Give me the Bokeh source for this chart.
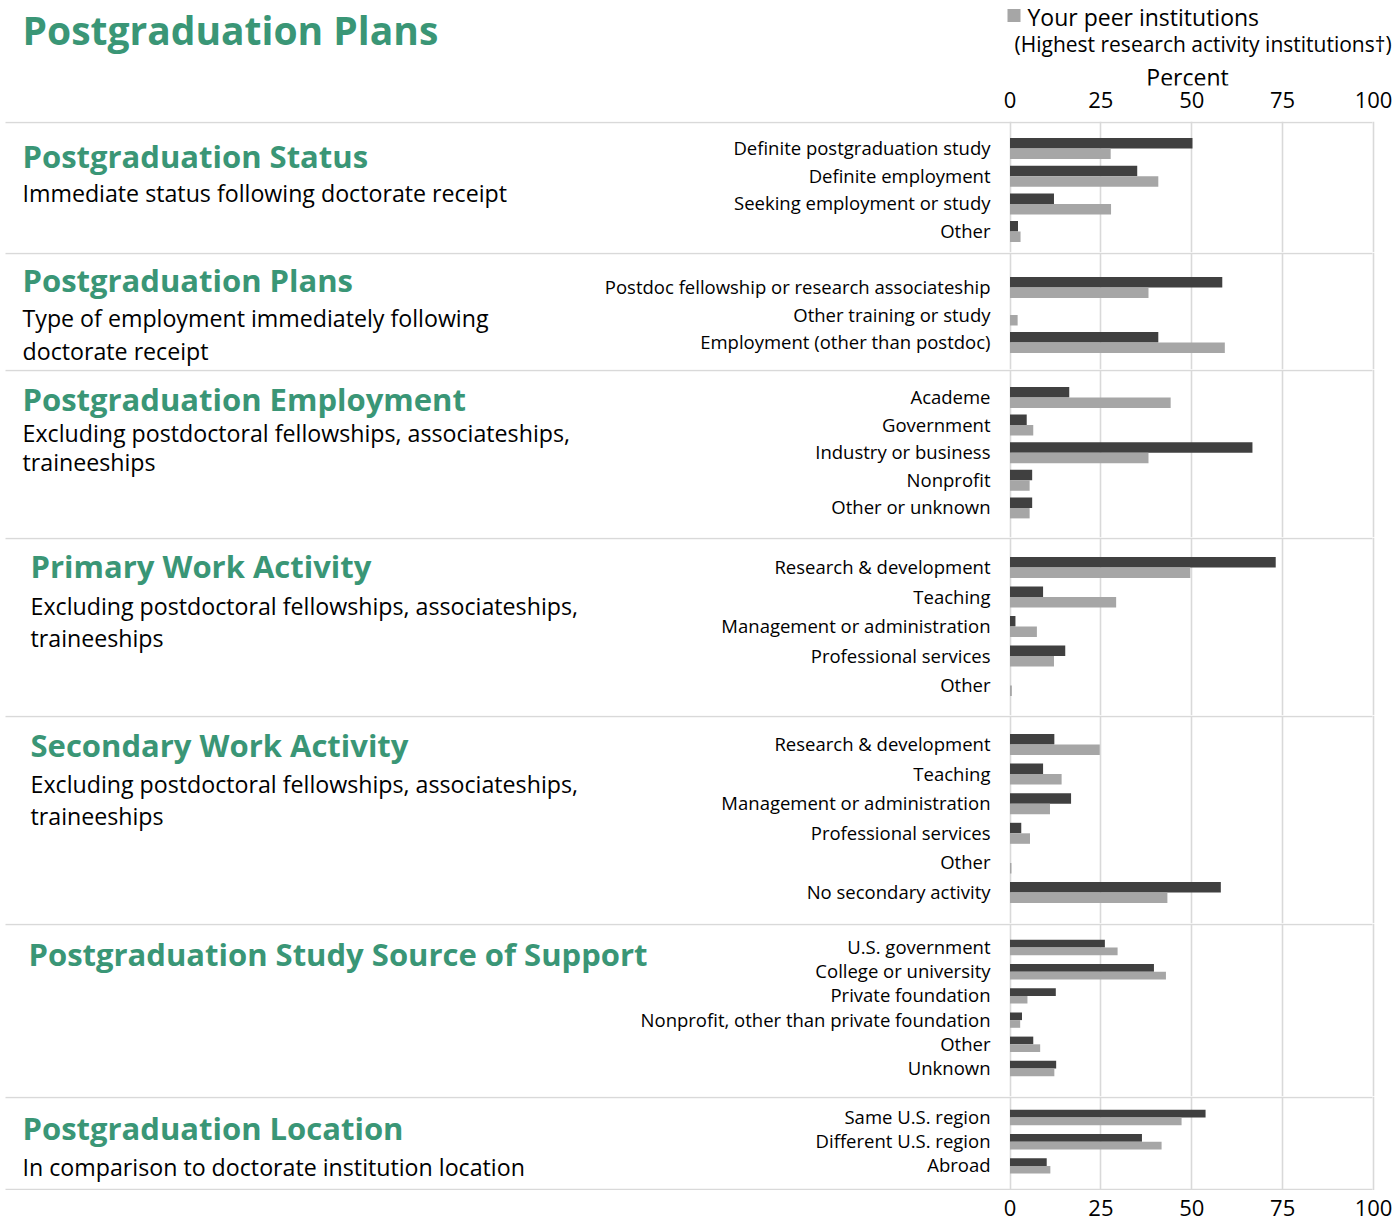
from bokeh.plotting import figure
from bokeh.models import Range1d, ColumnDataSource, LinearAxis, FixedTicker, Grid
from bokeh.layouts import column
from bokeh.embed import file_html
from bokeh.resources import INLINE
from bokeh.core.properties import value

# ---------------- data ----------------
TICKS = [0, 25, 50, 75, 100]
TICK_LABELS = [str(t) for t in TICKS]
MAIN_TITLE = "Postgraduation Plans"
PEER_LABEL = "Your peer institutions"
PEER_NOTE = "(Highest research activity institutions\u2020)"
X_LABEL = "Percent"

STATUS_CATS = ["Definite postgraduation study", "Definite employment",
               "Seeking employment or study", "Other"]
STATUS_YOU = [50.2, 35.0, 12.1, 2.2]
STATUS_PEER = [27.7, 40.8, 27.8, 2.9]

PLANS_CATS = ["Postdoc fellowship or research associateship", "Other training or study",
              "Employment (other than postdoc)"]
PLANS_YOU = [58.4, 0.0, 40.8]
PLANS_PEER = [38.1, 2.1, 59.1]

EMPLOY_CATS = ["Academe", "Government", "Industry or business", "Nonprofit", "Other or unknown"]
EMPLOY_YOU = [16.3, 4.6, 66.7, 6.1, 6.1]
EMPLOY_PEER = [44.2, 6.4, 38.1, 5.4, 5.4]

PRIMARY_CATS = ["Research & development", "Teaching", "Management or administration",
                "Professional services", "Other"]
PRIMARY_YOU = [73.1, 9.1, 1.5, 15.2, 0.0]
PRIMARY_PEER = [49.6, 29.2, 7.4, 12.1, 0.5]

SECONDARY_CATS = ["Research & development", "Teaching", "Management or administration",
                  "Professional services", "Other", "No secondary activity"]
SECONDARY_YOU = [12.2, 9.1, 16.8, 3.1, 0.0, 58.0]
SECONDARY_PEER = [24.7, 14.2, 11.0, 5.5, 0.4, 43.3]

SUPPORT_CATS = ["U.S. government", "College or university", "Private foundation",
                "Nonprofit, other than private foundation", "Other", "Unknown"]
SUPPORT_YOU = [26.1, 39.6, 12.6, 3.3, 6.4, 12.7]
SUPPORT_PEER = [29.6, 42.9, 4.8, 2.8, 8.3, 12.2]

LOCATION_CATS = ["Same U.S. region", "Different U.S. region", "Abroad"]
LOCATION_YOU = [53.8, 36.3, 10.1]
LOCATION_PEER = [47.2, 41.7, 11.1]

SECTION_TITLES = ["Postgraduation Status", "Postgraduation Plans", "Postgraduation Employment",
                  "Primary Work Activity", "Secondary Work Activity",
                  "Postgraduation Study Source of Support", "Postgraduation Location"]
SECTION_SUBTITLES = [
    ["Immediate status following doctorate receipt"],
    ["Type of employment immediately following", "doctorate receipt"],
    ["Excluding postdoctoral fellowships, associateships,", "traineeships"],
    ["Excluding postdoctoral fellowships, associateships,", "traineeships"],
    ["Excluding postdoctoral fellowships, associateships,", "traineeships"],
    [],
    ["In comparison to doctorate institution location"],
]
SECTION_DATA = [
    (STATUS_CATS, STATUS_YOU, STATUS_PEER),
    (PLANS_CATS, PLANS_YOU, PLANS_PEER),
    (EMPLOY_CATS, EMPLOY_YOU, EMPLOY_PEER),
    (PRIMARY_CATS, PRIMARY_YOU, PRIMARY_PEER),
    (SECONDARY_CATS, SECONDARY_YOU, SECONDARY_PEER),
    (SUPPORT_CATS, SUPPORT_YOU, SUPPORT_PEER),
    (LOCATION_CATS, LOCATION_YOU, LOCATION_PEER),
]

# ---------------- layout / style ----------------
W = 1393
PX0, PX100 = 1009.5, 1373.0


def px2x(px):
    return (px - PX0) / (PX100 - PX0) * 100.0


XR = Range1d(px2x(0), px2x(W))

FONT = "Open Sans"
GREEN = "#3a9676"
DARK = "#404040"
PEER = "#a6a6a6"
LINE = "#d9d9d9"
CAT_FS = "18.5px"
SUB_FS = "23.2px"
TITLE_FS = "31px"
MAIN_FS = "39px"
TICK_FS = "22px"

# (frame height, first row offset, row pitch, bar height, title x px, title y, subtitle ys)
LAYOUT = [
    (131, 27.0, 27.7, 10.5, 22, 34, [71]),
    (117, 35.0, 27.5, 10.5, 22, 27, [65, 98]),
    (168, 28.0, 27.6, 10.5, 22, 29, [63, 92]),
    (178, 30.0, 29.5, 10.5, 30, 28, [68, 100]),
    (208, 29.0, 29.6, 10.5, 30, 29, [68, 100]),
    (173, 24.0, 24.2, 7.7, 28, 30, []),
    (94, 21.0, 24.2, 7.7, 22, 31, [70]),
]
LABEL_SHIFT = -1
HEADER_H = 121
HEADER_AXIS = 36
BOTTOM_H = 32


def make_fig(height, frame_h, border_bottom):
    p = figure(width=W, height=height, x_range=XR, y_range=Range1d(frame_h, 0),
               x_axis_location=None, y_axis_location=None,
               min_border_left=0, min_border_right=0, min_border_top=0,
               min_border_bottom=border_bottom, outline_line_color=None,
               background_fill_color="white", border_fill_color="white",
               output_backend="svg", toolbar_location=None)
    p.grid.visible = False
    return p


# ---------------- header ----------------
hf = HEADER_H - HEADER_AXIS
header = make_fig(HEADER_H, hf, HEADER_AXIS)
header.add_layout(LinearAxis(ticker=FixedTicker(ticks=TICKS), axis_line_color=None,
                             major_tick_line_color=None, minor_tick_line_color=None,
                             major_tick_out=0, major_tick_in=0, major_label_standoff=6,
                             major_label_text_font=FONT, major_label_text_font_size=TICK_FS,
                             major_label_text_color="black"), "below")
header.text(x=[px2x(22)], y=[29], text=[MAIN_TITLE], text_font=value(FONT),
            text_font_style="bold", text_font_size=MAIN_FS, text_color=GREEN,
            text_baseline="middle", text_align="left")
header.scatter(x=[px2x(1013.5)], y=[15], marker="square", size=13,
               fill_color=PEER, line_color=None)
header.text(x=[px2x(1027)], y=[16], text=[PEER_LABEL], text_font=value(FONT),
            text_font_size="23px", text_color="black", text_baseline="middle")
header.text(x=[px2x(1014)], y=[43], text=[PEER_NOTE], text_font=value(FONT),
            text_font_size="21px", text_color="black", text_baseline="middle")
header.text(x=[px2x(1187)], y=[76], text=[X_LABEL], text_font=value(FONT),
            text_font_size="23px", text_color="black", text_baseline="middle",
            text_align="center")

figs = [header]

# ---------------- sections ----------------
for i, (title, subs, (cats, you, peer)) in enumerate(zip(SECTION_TITLES, SECTION_SUBTITLES, SECTION_DATA)):
    fh, first, pitch, bh, tx, ty, sub_ys = LAYOUT[i]
    last = i == len(SECTION_TITLES) - 1
    p = make_fig(fh, fh, 0)
    p.add_layout(Grid(dimension=0, ticker=FixedTicker(ticks=TICKS),
                      grid_line_color=LINE, grid_line_width=1.6))
    rows = [first + k * pitch for k in range(len(cats))]
    src = ColumnDataSource(dict(
        cat=cats, you=you, peer=peer, y_lab=[r + LABEL_SHIFT for r in rows],
        y_you=[r - bh / 2 for r in rows], y_peer=[r + bh / 2 for r in rows]))
    p.hbar(y="y_you", left=0, right="you", height=bh, source=src,
           fill_color=DARK, line_color=None)
    p.hbar(y="y_peer", left=0, right="peer", height=bh, source=src,
           fill_color=PEER, line_color=None)
    p.text(x=px2x(990), y="y_lab", text="cat", source=src, text_align="right",
           text_baseline="middle", text_font=value(FONT), text_font_size=CAT_FS,
           text_color="black")
    # separator above the section
    p.segment(x0=[px2x(5)], y0=[1], x1=[px2x(1372)], y1=[1], line_color=LINE, line_width=1.6)
    if last:
        p.segment(x0=[px2x(5)], y0=[fh - 1], x1=[px2x(1372)], y1=[fh - 1],
                  line_color=LINE, line_width=1.6)
    p.text(x=[px2x(tx)], y=[ty], text=[title], text_font=value(FONT),
           text_font_style="bold", text_font_size=TITLE_FS, text_color=GREEN,
           text_baseline="middle")
    if subs:
        p.text(x=[px2x(tx)] * len(subs), y=sub_ys[:len(subs)], text=subs,
               text_font=value(FONT), text_font_size=SUB_FS, text_color="black",
               text_baseline="middle")
    figs.append(p)

# ---------------- bottom tick labels ----------------
bottom = make_fig(BOTTOM_H, BOTTOM_H, 0)
bottom.text(x=TICKS, y=[17.5] * len(TICKS), text=TICK_LABELS, text_font=value(FONT),
            text_font_size=TICK_FS, text_color="black", text_align="center",
            text_baseline="middle")
figs.append(bottom)

layout = column(*figs, spacing=0)
open("out.html", "w").write(file_html(layout, INLINE))
